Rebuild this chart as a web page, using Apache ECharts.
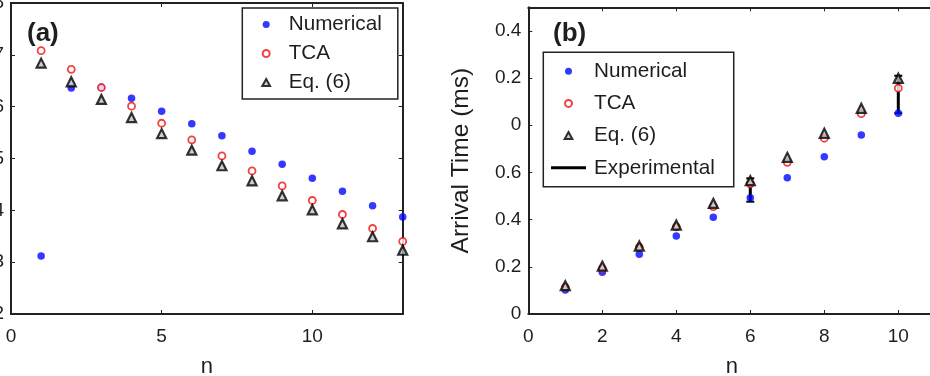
<!DOCTYPE html>
<html><head><meta charset="utf-8">
<script src="https://cdn.jsdelivr.net/npm/echarts@6/dist/echarts.min.js"></script>
<style>html,body{margin:0;padding:0;background:#fff}#c{width:930px;height:376px}</style>
</head><body><div id="c"></div>
<script>
// ---- Panel (a) data ----
const nA = [1,2,3,4,5,6,7,8,9,10,11,12,13];
const numA = [3.12,6.36,6.37,6.16,5.91,5.67,5.44,5.14,4.89,4.62,4.37,4.09,3.87];
const tcaA = [7.08,6.72,6.37,6.01,5.68,5.36,5.05,4.76,4.47,4.19,3.92,3.65,3.40];
const eqA  = [6.84,6.48,6.14,5.79,5.48,5.16,4.86,4.57,4.28,4.01,3.74,3.49,3.23];
const yTicksA = ['2','3','4','5','6','7','8'];
const xTicksA = ['0','5','10'];

// ---- Panel (b) data ----
const nB = [1,2,3,4,5,6,7,8,9,10];
const numB = [0.102,0.177,0.253,0.331,0.410,0.493,0.577,0.667,0.759,0.851];
const tcaB = [0.113,0.192,0.283,0.369,0.455,0.552,0.643,0.745,0.849,0.957];
const eqB  = [0.120,0.203,0.288,0.377,0.469,0.565,0.664,0.766,0.872,0.999];
const expN  = [6,10];
const expLo = [0.476,0.851];
const expHi = [0.575,1.010];
const yTicksB = ['0','0.2','0.4','0.6','0','0.2','0.4'];
const xTicksB = ['0','2','4','6','8','10'];

const FONT = 'Liberation Sans, Arial, Helvetica, sans-serif';
const TXT = '#1e1e1e';
const LINE = '#222';

function pairs(xs, ys){ return xs.map((x,i)=>[x,ys[i]]); }

const axisLineStyle = {show:true, onZero:false, lineStyle:{color:LINE, width:2}};
const tick = {show:true, inside:true, length:4, lineStyle:{color:LINE, width:1}};

function xAxisPair(gi, min, max, interval, labels, step){
  return [
    {type:'value', gridIndex:gi, position:'bottom', min, max, interval,
     axisLine:axisLineStyle, axisTick:tick, splitLine:{show:false},
     axisLabel:{show:true, showMaxLabel:false, margin:13, color:TXT, fontSize:19, fontFamily:FONT,
       formatter:v=>{const i=Math.round(v/step); return Math.abs(v-i*step)<1e-6 && labels[i]!==undefined ? labels[i] : '';}},
     name:'n', nameLocation:'middle', nameGap:42,
     nameTextStyle:{color:TXT, fontSize:22, fontFamily:FONT}},
    {type:'value', gridIndex:gi, position:'top', min, max, interval,
     axisLine:axisLineStyle, axisTick:tick, splitLine:{show:false}, axisLabel:{show:false}}
  ];
}
function yAxisPair(gi, min, max, interval, labels, step, name){
  return [
    {type:'value', gridIndex:gi, position:'left', min, max, interval,
     axisLine:axisLineStyle, axisTick:tick, splitLine:{show:false},
     axisLabel:{show:true, margin:7, color:TXT, fontSize:19, fontFamily:FONT,
       formatter:v=>{const i=Math.round((v-min)/step); return Math.abs((v-min)-i*step)<1e-6 && labels[i]!==undefined ? labels[i] : '';}},
     name:name||'', nameLocation:'middle', nameGap:55, nameRotate:90,
     nameTextStyle:{color:TXT, fontSize:24.5, fontFamily:FONT}},
    {type:'value', gridIndex:gi, position:'right', min, max, interval,
     axisLine:axisLineStyle, axisTick:tick, splitLine:{show:false}, axisLabel:{show:false}}
  ];
}

const numStyle = {symbol:'circle', symbolSize:7.5, itemStyle:{color:'#0008ff'}};
const tcaStyle = {symbol:'circle', symbolSize:7, itemStyle:{color:'#ffffff', borderColor:'#f01010', borderWidth:1.8}};
const eqStyle  = {symbol:'triangle', symbolSize:9, itemStyle:{color:'#c0c0c0', borderColor:'#000', borderWidth:2.2}};

function scatter(name, data, style, xi, yi){
  return Object.assign({type:'scatter', name, data, xAxisIndex:xi, yAxisIndex:yi, z:3,
    emphasis:{disabled:true}, animation:false}, JSON.parse(JSON.stringify(style)));
}

const legendTextA = {color:TXT, fontSize:20.7, fontFamily:FONT, lineHeight:20, padding:[0,0,0,0]};
const legendTextB = {color:TXT, fontSize:20.7, fontFamily:FONT, lineHeight:20, padding:[0,0,0,3]};
const triIcon = {name:'Eq. (6)', icon:'path://M5,0 L10,9 L0,9 Z',
  itemStyle:{color:'#c0c0c0', borderColor:'#000', borderWidth:2}};
const expIcon = {name:'Experimental', icon:'path://M0,0 L35,0 L35,3 L0,3 Z', itemStyle:{color:'#000', borderWidth:0}};

const option = {
  animation:false,
  backgroundColor:'#fff',
  title:[
    {text:'(a)', left:22, top:16, textStyle:{fontSize:26, fontWeight:'bold', color:TXT, fontFamily:FONT}},
    {text:'(b)', left:548, top:16, textStyle:{fontSize:26, fontWeight:'bold', color:TXT, fontFamily:FONT}}
  ],
  grid:[
    {left:11, top:3, right:527.3, bottom:62, containLabel:false, outerBoundsMode:'none'},
    {left:528.3, top:7.3, right:-5.3, bottom:62, containLabel:false, outerBoundsMode:'none'}
  ],
  xAxis:[].concat(xAxisPair(0, 0, 13, 5, xTicksA, 5), xAxisPair(1, 0, 11, 2, xTicksB, 2)),
  yAxis:[].concat(yAxisPair(0, 2, 8, 1, yTicksA, 1, ''), yAxisPair(1, 0, 1.3, 0.2, yTicksB, 0.2, 'Arrival Time (ms)')),
  legend:[
    {orient:'vertical', left:242.3, top:8, itemWidth:35, itemHeight:7, itemGap:8,
     padding:[6,16,6,19], borderColor:LINE, borderWidth:1.5, backgroundColor:'#fff',
     selectedMode:false, textStyle:legendTextA, data:['Numerical','TCA', triIcon]},
    {orient:'vertical', left:543.3, top:52.3, itemWidth:35, itemHeight:7, itemGap:11.2,
     padding:[8.4,19,8.4,7.7], borderColor:LINE, borderWidth:1.5, backgroundColor:'#fff',
     selectedMode:false, textStyle:legendTextB, data:['Numerical','TCA', triIcon, expIcon]}
  ],
  series:[
    scatter('Numerical', pairs(nA,numA), numStyle, 0, 0),
    scatter('TCA', pairs(nA,tcaA), tcaStyle, 0, 0),
    scatter('Eq. (6)', pairs(nA,eqA), eqStyle, 0, 0),
    {type:'custom', name:'Experimental', xAxisIndex:2, yAxisIndex:2, z:2, itemStyle:{color:'#000'},
     data: expN.map((x,i)=>[x, expLo[i], expHi[i]]),
     renderItem:(params, api)=>{
       const lo = api.coord([api.value(0), api.value(1)]);
       const hi = api.coord([api.value(0), api.value(2)]);
       const hw = 4;
       return {type:'group', children:[
         {type:'line', shape:{x1:lo[0], y1:lo[1], x2:hi[0], y2:hi[1]}, style:{stroke:'#000', lineWidth:3}},
         {type:'line', shape:{x1:hi[0]-hw, y1:hi[1], x2:hi[0]+hw, y2:hi[1]}, style:{stroke:'#000', lineWidth:2}},
         {type:'line', shape:{x1:lo[0]-hw, y1:lo[1], x2:lo[0]+hw, y2:lo[1]}, style:{stroke:'#000', lineWidth:2}}
       ]};
     }},
    scatter('Numerical', pairs(nB,numB), numStyle, 2, 2),
    scatter('TCA', pairs(nB,tcaB), tcaStyle, 2, 2),
    scatter('Eq. (6)', pairs(nB,eqB), eqStyle, 2, 2)
  ]
};
const chart = echarts.init(document.getElementById('c'), null, {renderer:'canvas'});
chart.setOption(option);
</script></body></html>
